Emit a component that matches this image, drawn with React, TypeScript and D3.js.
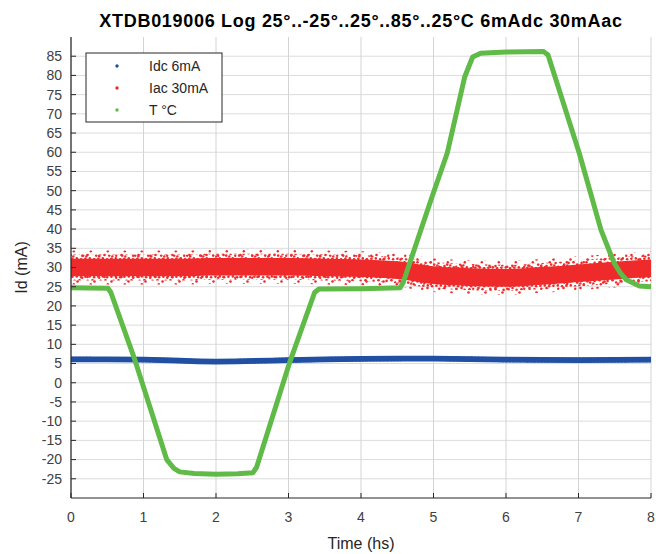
import React from "react";
import * as d3 from "d3";

const TITLE = "XTDB019006 Log 25°..-25°..25°..85°..25°C 6mAdc 30mAac";
const X_TICKS = [0, 1, 2, 3, 4, 5, 6, 7, 8];
const Y_TICKS = [-25, -20, -15, -10, -5, 0, 5, 10, 15, 20, 25, 30, 35, 40, 45, 50, 55, 60, 65, 70, 75, 80, 85];

// Temperature (°C)
const T_TIME = [0, 0.51, 0.55, 0.88, 1.32, 1.42, 1.5, 1.7, 2.0, 2.3, 2.51, 2.56, 3.02, 3.36, 3.42, 4.0, 4.54, 4.58, 4.98, 5.19, 5.43, 5.54, 5.65, 6.0, 6.52, 6.58, 6.69, 7.01, 7.31, 7.49, 7.58, 7.66, 7.84, 8.0];
const T_VAL = [24.7, 24.6, 23.5, 6, -20, -22.3, -23.2, -23.6, -23.8, -23.7, -23.4, -22, 5.5, 23.5, 24.4, 24.5, 24.7, 26, 48.4, 59.8, 79.6, 84.8, 85.8, 86.1, 86.2, 85.3, 78.8, 59.8, 39.8, 31.2, 28.5, 26.8, 25.2, 25.0];

// Idc 6mA mean level
const IDC_TIME = [0, 1, 2, 3, 4, 5, 6, 7, 8];
const IDC_VAL = [6.1, 6.0, 5.5, 5.9, 6.2, 6.3, 6.0, 5.9, 6.0];

// Iac 30mA band centre
const IAC_TIME = [0, 0.5, 1, 1.5, 2, 2.5, 3, 3.5, 4, 4.5, 5, 5.5, 6, 6.5, 7, 7.5, 8];
const IAC_VAL = [30, 30, 30, 30, 30.2, 30.2, 30.2, 30, 29.8, 29.3, 28, 27.5, 27.3, 27.8, 28.5, 29.2, 29.8];

const LEGEND = ["Idc 6mA", "Iac 30mA", "T °C"];
const COLORS = ["#2150a3", "#ee2a2a", "#5fba47"];

export default function App() {
  const left = 71, right = 651, top = 37, bottom = 498;
  const x = d3.scaleLinear().domain([0, 8]).range([left, right]);
  const y = d3.scaleLinear().domain([-30, 90]).range([bottom, top]);
  const font = "'Liberation Sans', Arial, Helvetica, sans-serif";

  const tData = T_TIME.map((t, i) => [t, T_VAL[i]] as [number, number]);
  const idcData = IDC_TIME.map((t, i) => [t, IDC_VAL[i]] as [number, number]);
  const iacData = IAC_TIME.map((t, i) => [t, IAC_VAL[i]] as [number, number]);

  const tLine = d3.line<[number, number]>().x(d => x(d[0])).y(d => y(d[1]));
  const smooth = d3.line<[number, number]>().x(d => x(d[0])).y(d => y(d[1])).curve(d3.curveMonotoneX);
  const band = (w: number) =>
    d3.area<[number, number]>().x(d => x(d[0])).y0(d => y(d[1] - w)).y1(d => y(d[1] + w)).curve(d3.curveMonotoneX);

  return (
    <svg width={656} height={554} style={{ position: "absolute", left: 0, top: 0, background: "#fff" }} fontFamily={font}>
      <defs>
        <pattern id="redDots" width="13" height="9" patternUnits="userSpaceOnUse">
          <circle cx="1.5" cy="1.2" r="1.3" fill={COLORS[1]} />
          <circle cx="5.2" cy="3.6" r="1.3" fill={COLORS[1]} />
          <circle cx="9.6" cy="1.9" r="1.3" fill={COLORS[1]} />
          <circle cx="11.8" cy="6.4" r="1.3" fill={COLORS[1]} />
          <circle cx="3.1" cy="7.3" r="1.3" fill={COLORS[1]} />
          <circle cx="7.4" cy="6.8" r="1.3" fill={COLORS[1]} />
          <circle cx="8.3" cy="4.4" r="1.2" fill={COLORS[1]} />
        </pattern>
        <pattern id="redDots2" width="17" height="11" patternUnits="userSpaceOnUse">
          <circle cx="2.5" cy="2" r="1.3" fill={COLORS[1]} />
          <circle cx="9.5" cy="6.5" r="1.3" fill={COLORS[1]} />
          <circle cx="14.2" cy="2.8" r="1.2" fill={COLORS[1]} />
          <circle cx="5.8" cy="9.3" r="1.2" fill={COLORS[1]} />
        </pattern>
        <clipPath id="plotClip"><rect x={left} y={top} width={right - left} height={bottom - top} /></clipPath>
      </defs>
      <rect width={656} height={554} fill="#fff" />
      {/* grid */}
      {Y_TICKS.map(v => (
        <line key={"gy" + v} x1={left} x2={right} y1={y(v)} y2={y(v)} stroke="#dcdcdc" strokeWidth={1} />
      ))}
      {X_TICKS.map(v => (
        <line key={"gx" + v} x1={x(v)} x2={x(v)} y1={top} y2={bottom} stroke="#d4d4d4" strokeWidth={1} />
      ))}
      <g clipPath="url(#plotClip)">
        {/* Iac band */}
        <path d={band(4.4)(iacData) || ""} fill="url(#redDots2)" />
        <path d={band(3.4)(iacData) || ""} fill="url(#redDots)" />
        <path d={band(2.3)(iacData) || ""} fill={COLORS[1]} />
        {/* Idc band */}
        <path d={band(0.75)(idcData) || ""} fill={COLORS[0]} />
        <path d={smooth(idcData) || ""} fill="none" stroke={COLORS[0]} strokeWidth={5} strokeDasharray="3 1 2 1" />
        {/* T line */}
        <path d={tLine(tData) || ""} fill="none" stroke={COLORS[2]} strokeWidth={5} strokeLinejoin="round" strokeLinecap="round" />
      </g>
      {/* axes */}
      <line x1={left} x2={left} y1={top} y2={bottom} stroke="#262626" strokeWidth={1.2} />
      <line x1={left} x2={right} y1={bottom} y2={bottom} stroke="#262626" strokeWidth={1.2} />
      {Y_TICKS.map(v => (
        <g key={"ty" + v}>
          <line x1={left} x2={left + 5} y1={y(v)} y2={y(v)} stroke="#262626" />
          <text x={left - 9} y={y(v)} dy="0.35em" textAnchor="end" fontSize={14} fill="#404040">{v}</text>
        </g>
      ))}
      {X_TICKS.map(v => (
        <g key={"tx" + v}>
          <line x1={x(v)} x2={x(v)} y1={bottom} y2={bottom - 5} stroke="#262626" />
          <text x={x(v)} y={bottom + 24} textAnchor="middle" fontSize={14} fill="#404040">{v}</text>
        </g>
      ))}
      <text x={(left + right) / 2} y={27} textAnchor="middle" fontSize={18} letterSpacing={0.7} fontWeight="bold" fill="#000">{TITLE}</text>
      <text x={(left + right) / 2} y={549} textAnchor="middle" fontSize={16} fill="#262626">Time (hs)</text>
      <text transform={`translate(27,${(top + bottom) / 2}) rotate(-90)`} textAnchor="middle" fontSize={16} fill="#262626">Id (mA)</text>
      {/* legend */}
      <rect x={86} y={53} width={136} height={69} fill="#fff" stroke="#262626" strokeWidth={1} />
      {LEGEND.map((name, i) => (
        <g key={name}>
          <circle cx={117} cy={66 + i * 22} r={1.7} fill={COLORS[i]} />
          <text x={149} y={66 + i * 22} dy="0.35em" fontSize={14} fill="#262626">{name}</text>
        </g>
      ))}
    </svg>
  );
}
